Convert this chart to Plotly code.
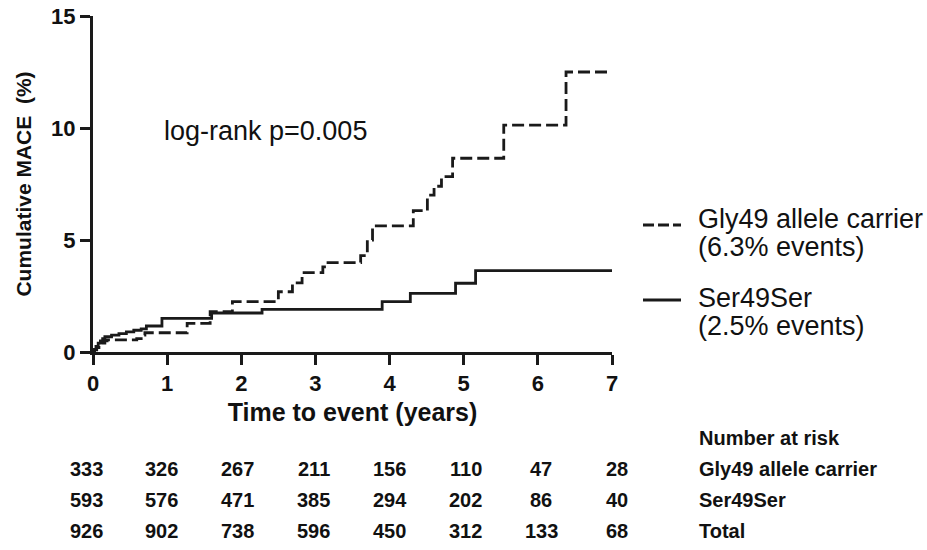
import plotly.graph_objects as go

# ---------------- data ----------------
t_gly = [0, 0.02, 0.05, 0.08, 0.12, 0.16, 0.19, 0.59, 0.65, 0.70, 1.27, 1.58, 1.88, 2.50,
         2.69, 2.82, 3.10, 3.15, 3.61, 3.70, 3.77, 4.32, 4.51, 4.60, 4.70, 4.85, 5.54, 6.38, 7.0]
y_gly = [0, 0.10, 0.20, 0.30, 0.40, 0.50, 0.54, 0.60, 0.75, 0.86, 1.28, 1.80, 2.25, 2.69,
         3.09, 3.54, 3.80, 3.99, 4.30, 5.00, 5.63, 6.31, 7.00, 7.40, 7.83, 8.65, 10.13, 12.5, 12.5]

t_ser = [0, 0.02, 0.04, 0.07, 0.10, 0.13, 0.16, 0.25, 0.35, 0.45, 0.55, 0.65, 0.72, 0.93,
         1.60, 2.28, 3.90, 4.28, 4.89, 5.16, 7.0]
y_ser = [0, 0.12, 0.25, 0.40, 0.50, 0.60, 0.68, 0.75, 0.82, 0.90, 0.97, 1.03, 1.16, 1.50,
         1.74, 1.90, 2.25, 2.62, 3.07, 3.63, 3.63]

x_ticks = [0, 1, 2, 3, 4, 5, 6, 7]
y_ticks = [0, 5, 10, 15]

risk_header = "Number at risk"
risk_labels = ["Gly49 allele carrier", "Ser49Ser", "Total"]
risk_gly = [333, 326, 267, 211, 156, 110, 47, 28]
risk_ser = [593, 576, 471, 385, 294, 202, 86, 40]
risk_tot = [926, 902, 738, 596, 450, 312, 133, 68]

legend_gly = ["Gly49 allele carrier", "(6.3% events)"]
legend_ser = ["Ser49Ser", "(2.5% events)"]
pvalue_text = "log-rank p=0.005"

# ---------------- layout helpers ----------------
W, H = 927, 550
L, R, T, B = 93, 315, 16, 198
PW, PH = W - L - R, H - T - B
FONT = "Liberation Sans, Arial, Helvetica, sans-serif"
INK = "#1a1a1a"


def px_x(p):
    return (p - L) / PW


def px_y(p):
    return (H - B - p) / PH


fig = go.Figure()
fig.add_trace(go.Scatter(x=t_gly, y=y_gly, mode="lines", line_shape="hv",
                         line=dict(color=INK, width=2.8, dash="12px,5px"),
                         name="Gly49 allele carrier", showlegend=False, cliponaxis=False))
fig.add_trace(go.Scatter(x=t_ser, y=y_ser, mode="lines", line_shape="hv",
                         line=dict(color=INK, width=2.8),
                         name="Ser49Ser", showlegend=False, cliponaxis=False))

axis_common = dict(showgrid=False, zeroline=False, showline=True, linecolor=INK, linewidth=3,
                   ticks="outside", ticklen=10, tickwidth=3, tickcolor=INK, automargin=False,
                   tickfont=dict(family=FONT, size=22, color="#111", weight="bold"))

fig.update_xaxes(range=[0, 7], tickvals=x_ticks, **axis_common,
                 title=dict(text="Time to event (years)", standoff=9,
                            font=dict(family=FONT, size=25, color="#111", weight="bold")))
fig.update_yaxes(range=[0, 15], tickvals=y_ticks, **axis_common,
                 title=dict(text="Cumulative MACE  (%)", standoff=14,
                            font=dict(family=FONT, size=21, color="#111", weight="bold")))

ann = []
ann.append(dict(x=px_x(162), y=px_y(131), xref="paper", yref="paper", text=pvalue_text,
                showarrow=False, xanchor="left", yanchor="middle",
                font=dict(family=FONT, size=27, color="#111")))

# legend (custom)
leg_font = dict(family=FONT, size=27, color="#111")
for txt, ypx in zip(legend_gly + legend_ser, [219, 247, 298, 326]):
    ann.append(dict(x=px_x(696), y=px_y(ypx), xref="paper", yref="paper", text=txt,
                    showarrow=False, xanchor="left", yanchor="middle", font=leg_font))

shapes = [
    dict(type="line", xref="paper", yref="paper", x0=px_x(643), x1=px_x(681),
         y0=px_y(225), y1=px_y(225), line=dict(color=INK, width=2.8, dash="11px,4px")),
    dict(type="line", xref="paper", yref="paper", x0=px_x(643), x1=px_x(681),
         y0=px_y(300), y1=px_y(300), line=dict(color=INK, width=2.8)),
]

# number-at-risk table
tab_font = dict(family=FONT, size=20, color="#111", weight="bold")
col_px = [86 + i * 75.9 for i in range(len(x_ticks))]
row_px = [469, 500, 531]
for row, vals in zip(row_px, [risk_gly, risk_ser, risk_tot]):
    for cx, v in zip(col_px, vals):
        ann.append(dict(x=px_x(cx), y=px_y(row), xref="paper", yref="paper", text=str(v),
                        showarrow=False, xanchor="center", yanchor="middle", font=tab_font))
ann.append(dict(x=px_x(697), y=px_y(438), xref="paper", yref="paper", text=risk_header,
                showarrow=False, xanchor="left", yanchor="middle", font=tab_font))
for row, lab in zip(row_px, risk_labels):
    ann.append(dict(x=px_x(697), y=px_y(row), xref="paper", yref="paper", text=lab,
                    showarrow=False, xanchor="left", yanchor="middle", font=tab_font))

fig.update_layout(width=W, height=H, margin=dict(l=L, r=R, t=T, b=B, autoexpand=False),
                  paper_bgcolor="white", plot_bgcolor="white",
                  annotations=ann, shapes=shapes, showlegend=False)

fig.write_html("out.html", config={"displayModeBar": False},
               post_script="document.body.style.margin='0';document.body.style.overflow='hidden';")
